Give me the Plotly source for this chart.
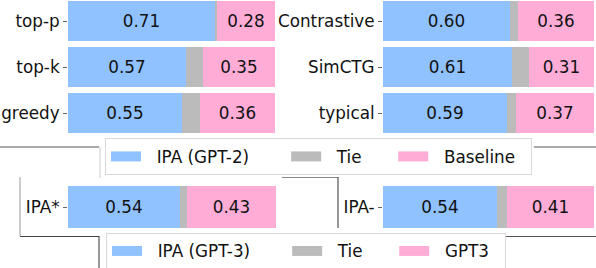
import plotly.graph_objects as go

W, H = 596, 268

# ---- data ----
methods_left = ["top-p", "top-k", "greedy"]
ipa_left = [0.71, 0.57, 0.55]
tie_left = [0.01, 0.08, 0.09]
base_left = [0.28, 0.35, 0.36]

methods_right = ["Contrastive", "SimCTG", "typical"]
ipa_right = [0.60, 0.61, 0.59]
tie_right = [0.04, 0.08, 0.04]
base_right = [0.36, 0.31, 0.37]

gpt3_left_label = ["IPA*"]
ipa3_left = [0.54]
tie3_left = [0.03]
gpt3_left = [0.43]

gpt3_right_label = ["IPA-"]
ipa3_right = [0.54]
tie3_right = [0.05]
gpt3_right = [0.41]

legend1_names = ["IPA (GPT-2)", "Tie", "Baseline"]
legend2_names = ["IPA (GPT-3)", "Tie", "GPT3"]

BLUE = "#90C2FF"
GREY = "#BBBBBB"
PINK = "#FFADD6"
FONT = "DejaVu Sans"
FS = 16.8
NB = "\u00a0"

fig = go.Figure()


def add_panel(labels, ipa, tie, base, xa, ya, width):
    for vals, col, show_text in ((ipa, BLUE, True), (tie, GREY, False), (base, PINK, True)):
        fig.add_trace(go.Bar(
            y=labels, x=vals, orientation="h", width=width,
            marker=dict(color=col, line=dict(width=0)),
            text=[f"{v:.2f}" for v in vals] if show_text else None,
            textposition="inside" if show_text else "none",
            insidetextanchor="middle", textangle=0,
            textfont=dict(family=FONT, size=FS, color="#111111"),
            constraintext="none",
            hoverinfo="skip", showlegend=False,
            xaxis=xa, yaxis=ya,
        ))


add_panel(methods_left, ipa_left, tie_left, base_left, "x", "y", 0.89)
add_panel(methods_right, ipa_right, tie_right, base_right, "x2", "y2", 0.89)
add_panel(gpt3_left_label, ipa3_left, tie3_left, gpt3_left, "x3", "y3", 0.72)
add_panel(gpt3_right_label, ipa3_right, tie3_right, gpt3_right, "x4", "y4", 0.72)

# legend entries (line swatches mimic wide patches); non-breaking spaces pad spacing
pads = [(2, 6), (2, 5), (2, 2)]
for names, lg in ((legend1_names, "legend"), (legend2_names, "legend2")):
    for i, (nm, col) in enumerate(zip(names, (BLUE, GREY, PINK))):
        lead, trail = pads[i]
        label = NB * lead + nm + NB * trail
        fig.add_trace(go.Scatter(
            x=[None], y=[None], mode="lines", name=label,
            line=dict(color=col, width=11),
            legend=lg, showlegend=True, hoverinfo="skip",
            xaxis="x", yaxis="y",
        ))


def px(x):
    return x / W


def py(y):
    return 1 - y / H


xcommon = dict(range=[0, 1], visible=False, fixedrange=True, automargin=False)
ycommon = dict(showline=False, showgrid=False, zeroline=False, ticks="outside",
               ticklen=4, tickwidth=1, tickcolor="#666666", automargin=False,
               tickfont=dict(family=FONT, size=FS, color="#111111"), fixedrange=True)

legcommon = dict(orientation="h", xanchor="left", yanchor="top", traceorder="normal",
                 bgcolor="white", bordercolor="#D9D9D9", borderwidth=1,
                 font=dict(family=FONT, size=FS, color="#111111"), itemwidth=30)

fig.update_layout(
    width=W, height=H,
    margin=dict(l=0, r=0, t=0, b=0, autoexpand=False),
    paper_bgcolor="white", plot_bgcolor="white",
    barmode="stack", bargap=0,
    font=dict(family=FONT, size=FS, color="#111111"),
    xaxis=dict(domain=[px(68), px(275)], anchor="y", **xcommon),
    xaxis2=dict(domain=[px(383), px(594)], anchor="y2", **xcommon),
    xaxis3=dict(domain=[px(68), px(276)], anchor="y3", **xcommon),
    xaxis4=dict(domain=[px(383), px(594)], anchor="y4", **xcommon),
    yaxis=dict(domain=[py(136), py(0)], anchor="x", range=[2.5, -0.457],
               categoryorder="array", categoryarray=methods_left, **ycommon),
    yaxis2=dict(domain=[py(136), py(0)], anchor="x2", range=[2.5, -0.457],
                categoryorder="array", categoryarray=methods_right, **ycommon),
    yaxis3=dict(domain=[py(236), py(178)], anchor="x3", range=[-0.5, 0.5], **ycommon),
    yaxis4=dict(domain=[py(236), py(178)], anchor="x4", range=[-0.5, 0.5], **ycommon),
    legend=dict(x=px(105), y=py(138), **legcommon),
    legend2=dict(x=px(106), y=py(232.5), **legcommon),
    showlegend=True,
)

# frame fragments of the composed figure
lines = [
    (0, 147, 99, 147, "#555555"),
    (100, 147, 100, 178, "#CCCCCC"),
    (534, 147, 596, 147, "#555555"),
    (20, 177, 20, 236, "#999999"),
    (20, 236.5, 99, 236.5, "#444444"),
    (99, 236, 99, 268, "#333333"),
    (282, 177.5, 338, 177.5, "#888888"),
    (338, 177, 338, 228, "#333333"),
    (506, 236.5, 596, 236.5, "#555555"),
]
for x0, y0, x1, y1, c in lines:
    fig.add_shape(type="line", xref="paper", yref="paper",
                  x0=px(x0), y0=py(y0), x1=px(x1), y1=py(y1),
                  line=dict(color=c, width=1), layer="below")

fig.write_html("out.html", config={"displayModeBar": False},
               post_script="document.body.style.margin='0px';document.body.style.overflow='hidden';")
